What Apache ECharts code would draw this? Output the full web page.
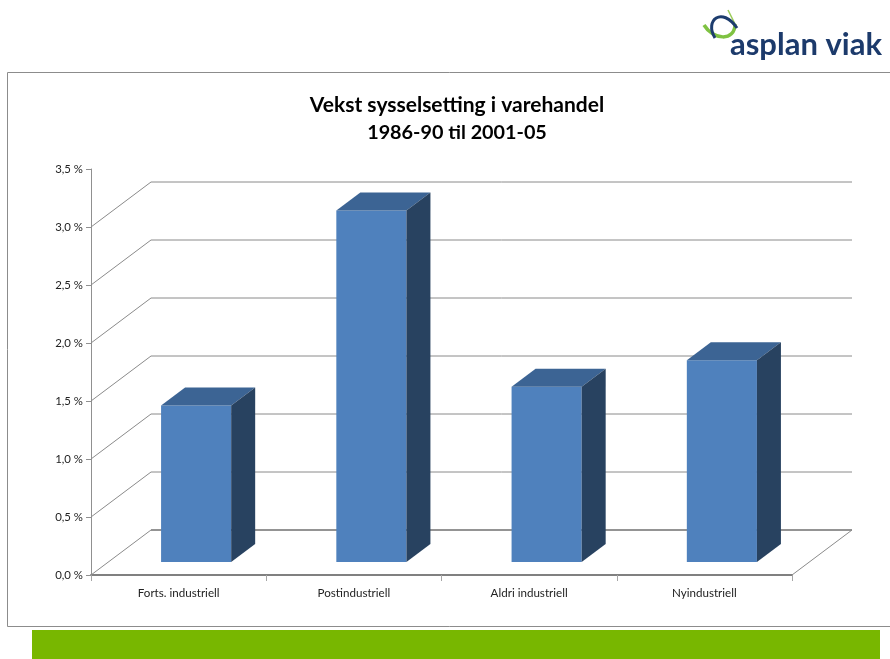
<!DOCTYPE html>
<html>
<head>
<meta charset="utf-8">
<style>html,body{margin:0;padding:0;background:#fff}#chart{width:890px;height:659px}</style>
</head>
<body>
<div id="chart"></div>
<script src="https://cdn.jsdelivr.net/npm/echarts@6/dist/echarts.min.js"></script>
<script>
var categories = ['Forts. industriell', 'Postindustriell', 'Aldri industriell', 'Nyindustriell'];
var vekst = [1.35, 3.03, 1.51, 1.74];
var gridValues = [0, 0.5, 1, 1.5, 2, 2.5, 3];
var tickLabels = ['0,0 %', '0,5 %', '1,0 %', '1,5 %', '2,0 %', '2,5 %', '3,0 %', '3,5 %'];

// 3D look: how far the back wall and the bars are pushed in
var wallDx = 60, wallDy = 45;
var barDx = 24, barDy = 18;
var barShiftX = 17.5, barShiftY = 13;
var lineColor = '#8a8a8a';
var fontName = 'Lato, "Open Sans", sans-serif';

function renderWall(params, api) {
    var rect = params.coordSys;
    var y = api.coord([0, api.value(1)])[1];
    var left = rect.x, right = rect.x + rect.width;
    var isFloor = api.value(1) === 0;
    var lineStyle = { stroke: lineColor, lineWidth: 1, fill: null };
    var children = [
        { type: 'line', shape: { x1: left, y1: y, x2: left + wallDx, y2: y - wallDy }, style: lineStyle },
        { type: 'line', shape: { x1: left + wallDx, y1: y - wallDy, x2: right + wallDx, y2: y - wallDy },
          style: { stroke: isFloor ? '#707070' : lineColor, lineWidth: isFloor ? 1.5 : 1 } }
    ];
    if (isFloor) {
        children.push({ type: 'line', shape: { x1: right, y1: y, x2: right + wallDx, y2: y - wallDy }, style: lineStyle });
    }
    return { type: 'group', children: children };
}

function renderBar(params, api) {
    var top = api.coord([api.value(0), api.value(1)]);
    var base = api.coord([api.value(0), 0]);
    var w = api.size([1, 0])[0] * 0.4;
    var x0 = top[0] + barShiftX - w / 2, x1 = x0 + w;
    var yTop = top[1] - barShiftY, yBase = base[1] - barShiftY;
    return {
        type: 'group',
        children: [
            { type: 'rect', shape: { x: x0, y: yTop, width: w, height: yBase - yTop }, style: { fill: '#4f81bd' } },
            { type: 'polygon', shape: { points: [[x0, yTop], [x0 + barDx, yTop - barDy], [x1 + barDx, yTop - barDy], [x1, yTop]] },
              style: { fill: '#3c6494' } },
            { type: 'polygon', shape: { points: [[x1, yTop], [x1 + barDx, yTop - barDy], [x1 + barDx, yBase - barDy], [x1, yBase]] },
              style: { fill: '#284260' } }
        ]
    };
}

var chart = echarts.init(document.getElementById('chart'));
chart.setOption({
    animation: false,
    title: {
        text: '{a|Vekst sysselsetting i varehandel}\n{b|1986-90 til 2001-05}',
        left: 452,
        top: 87,
        textAlign: 'center',
        textStyle: {
            rich: {
                a: { fontFamily: fontName, fontSize: 21, fontWeight: 'bold', color: '#000', lineHeight: 27 },
                b: { fontFamily: fontName, fontSize: 19.8, fontWeight: 'bold', color: '#000', lineHeight: 27 }
            }
        }
    },
    grid: { left: 91, right: 98, top: 169, bottom: 84 },
    xAxis: {
        type: 'category',
        data: categories,
        axisLine: { lineStyle: { color: '#808080', width: 2 } },
        axisTick: { show: true, length: 6, lineStyle: { color: '#a6a6a6' } },
        axisLabel: { fontFamily: fontName, fontSize: 11.6, color: '#222', margin: 12 }
    },
    yAxis: {
        type: 'value',
        min: 0,
        max: 3.5,
        interval: 0.5,
        axisLine: { show: true, lineStyle: { color: '#909090' } },
        axisTick: { show: true, length: 5, lineStyle: { color: '#909090' } },
        splitLine: { show: false },
        axisLabel: {
            fontFamily: fontName, fontSize: 11.4, color: '#222', margin: 8,
            formatter: function (v) { return tickLabels[Math.round(v / 0.5)]; }
        }
    },
    series: [
        {
            type: 'custom',
            silent: true,
            renderItem: renderWall,
            encode: { x: 0, y: 1 },
            data: gridValues.map(function (v) { return [0, v]; }),
            z: 1
        },
        {
            type: 'custom',
            silent: true,
            renderItem: renderBar,
            encode: { x: 0, y: 1 },
            data: vekst.map(function (v, i) { return [i, v]; }),
            z: 2
        }
    ],
    graphic: [
        // ramme rundt figuren
        { type: 'rect', z: -1, silent: true, shape: { x: 7.5, y: 72.5, width: 890, height: 554 }, style: { fill: null, stroke: '#8c8c8c', lineWidth: 1 } },
        // groenn stripe
        { type: 'rect', silent: true, shape: { x: 32, y: 630, width: 848, height: 29 }, style: { fill: '#78b700' } },
        // logo
        { type: 'bezierCurve', silent: true, shape: { x1: 704, y1: 25, cpx1: 713, cpy1: 40, cpx2: 735, cpy2: 42, x2: 735, y2: 24 }, style: { stroke: '#7fc242', lineWidth: 3.5, fill: null } },
        { type: 'line', silent: true, shape: { x1: 735, y1: 24, x2: 728, y2: 10 }, style: { stroke: '#9ccc5a', lineWidth: 1.5 } },
        { type: 'bezierCurve', silent: true, shape: { x1: 715, y1: 38, cpx1: 704, cpy1: 20, cpx2: 722, cpy2: 6, x2: 737, y2: 28 }, style: { stroke: '#1d3c6e', lineWidth: 3, fill: null } },
        { type: 'text', silent: true, style: { x: 730, y: 29, text: 'asplan viak', fontFamily: fontName, fontSize: 31, fontWeight: 'bold', fill: '#1c3a6b' } }
    ]
});
</script>
</body>
</html>
